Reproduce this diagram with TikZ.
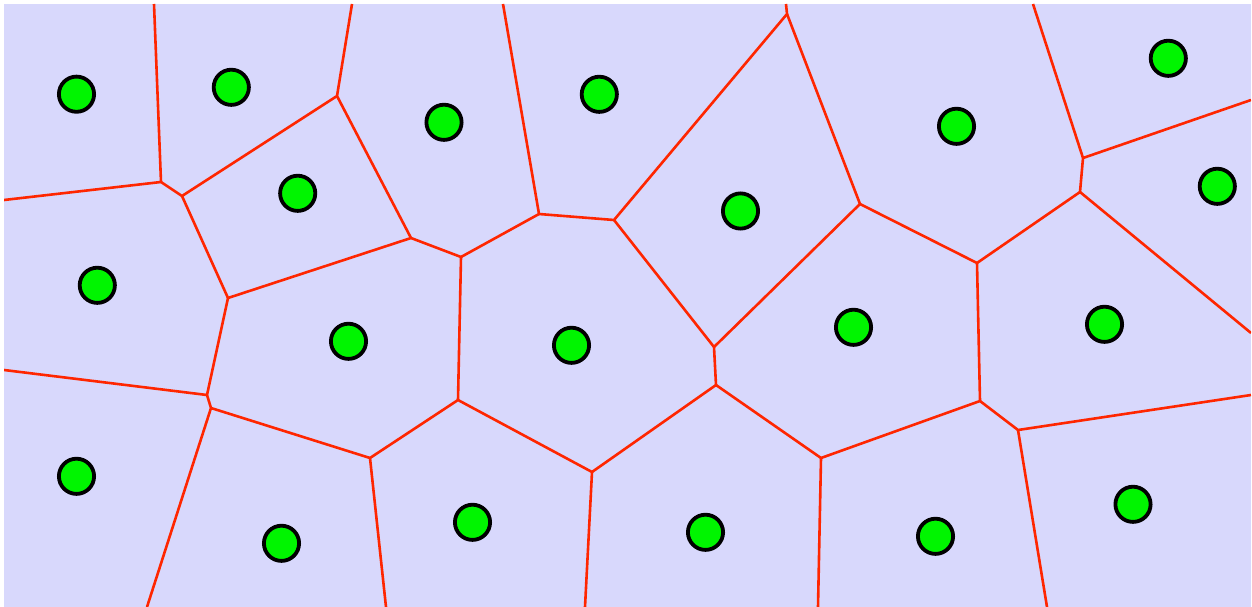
\documentclass[tikz,border=0pt]{standalone}
\definecolor{cellbg}{RGB}{216,216,252}
\definecolor{wallred}{RGB}{255,38,0}
\definecolor{seedgreen}{RGB}{0,245,0}

\begin{document}
\begin{tikzpicture}[
          x=1pt, y=-1pt,
          seed/.style={circle, draw=black, fill=seedgreen, line width=3.8pt, minimum size=35.2pt, inner sep=0pt},
          wall/.style={draw=wallred, line width=2.6pt, line join=round}
        ]
        \useasboundingbox (0,0) rectangle (1252,607);
        \fill[cellbg] (4,4) rectangle (1251,607);
        % cell corners
        \coordinate (va) at (161,182);
        \coordinate (vb) at (182,196);
        \coordinate (vc) at (337,96);
        \coordinate (vd) at (228,298);
        \coordinate (ve) at (411,238);
        \coordinate (vf) at (461,257);
        \coordinate (vg) at (539,214);
        \coordinate (vh) at (614,220);
        \coordinate (vi) at (787,14);
        \coordinate (vj) at (714,347);
        \coordinate (vjj) at (716,385);
        \coordinate (vk) at (860,204);
        \coordinate (vl) at (977,263);
        \coordinate (vm) at (1083,158);
        \coordinate (vn) at (1080,192);
        \coordinate (vo) at (980,401);
        \coordinate (vp) at (821,458);
        \coordinate (vq) at (1018,430);
        \coordinate (vr) at (592,472);
        \coordinate (vs) at (458,400);
        \coordinate (vt) at (370,458);
        \coordinate (vu) at (207,395);
        \coordinate (vuu) at (211,408);
        % open ends on the frame
        \coordinate (topa) at (154,4);
        \coordinate (topc) at (352,4);
        \coordinate (topg) at (503,4);
        \coordinate (topi) at (786,4);
        \coordinate (topm) at (1033,4);
        \coordinate (lefta) at (4,200);
        \coordinate (leftu) at (4,370);
        \coordinate (rightm) at (1251,100);
        \coordinate (rightn) at (1251,333);
        \coordinate (rightq) at (1251,395);
        \coordinate (botu) at (147,607);
        \coordinate (bott) at (386,607);
        \coordinate (botr) at (585,607);
        \coordinate (botp) at (818,607);
        \coordinate (botq) at (1047,607);
        \begin{scope}
          \clip (4,4) rectangle (1251,607);
          \draw[wall] (topa) -- (va) -- (lefta);
          \draw[wall] (va) -- (vb) -- (vc) -- (topc);
          \draw[wall] (vb) -- (vd) -- (ve) -- (vc);
          \draw[wall] (vd) -- (vu) -- (leftu);
          \draw[wall] (vu) -- (vuu) -- (botu);
          \draw[wall] (vuu) -- (vt) -- (bott);
          \draw[wall] (vt) -- (vs) -- (vr) -- (botr);
          \draw[wall] (vs) -- (vf) -- (ve);
          \draw[wall] (vf) -- (vg) -- (topg);
          \draw[wall] (vg) -- (vh) -- (vi) -- (topi);
          \draw[wall] (vh) -- (vj) -- (vjj) -- (vr);
          \draw[wall] (vj) -- (vk) -- (vi);
          \draw[wall] (vjj) -- (vp) -- (botp);
          \draw[wall] (vp) -- (vo) -- (vl) -- (vk);
          \draw[wall] (vl) -- (vn) -- (rightn);
          \draw[wall] (vn) -- (vm) -- (topm);
          \draw[wall] (vm) -- (rightm);
          \draw[wall] (vo) -- (vq) -- (rightq);
          \draw[wall] (vq) -- (botq);
        \end{scope}
        % seeds
        \node[seed] (s1) at (76.5,94.2) {};
        \node[seed] (s2) at (231.3,87.3) {};
        \node[seed] (s3) at (444,122.3) {};
        \node[seed] (s4) at (599.3,94.3) {};
        \node[seed] (s5) at (297.7,193.3) {};
        \node[seed] (s6) at (740.5,211) {};
        \node[seed] (s7) at (956.5,126.3) {};
        \node[seed] (s8) at (1168.3,58.3) {};
        \node[seed] (s9) at (1217.3,186.3) {};
        \node[seed] (s10) at (97.3,285.3) {};
        \node[seed] (s11) at (348.5,341.3) {};
        \node[seed] (s12) at (571.5,345.3) {};
        \node[seed] (s13) at (853.5,327.3) {};
        \node[seed] (s14) at (1104.5,324.3) {};
        \node[seed] (s15) at (76.5,476.3) {};
        \node[seed] (s16) at (281.5,543.3) {};
        \node[seed] (s17) at (472.5,522.3) {};
        \node[seed] (s18) at (705.5,532.3) {};
        \node[seed] (s19) at (935.5,536.3) {};
        \node[seed] (s20) at (1133,504.3) {};
      \end{tikzpicture}
\end{document}
